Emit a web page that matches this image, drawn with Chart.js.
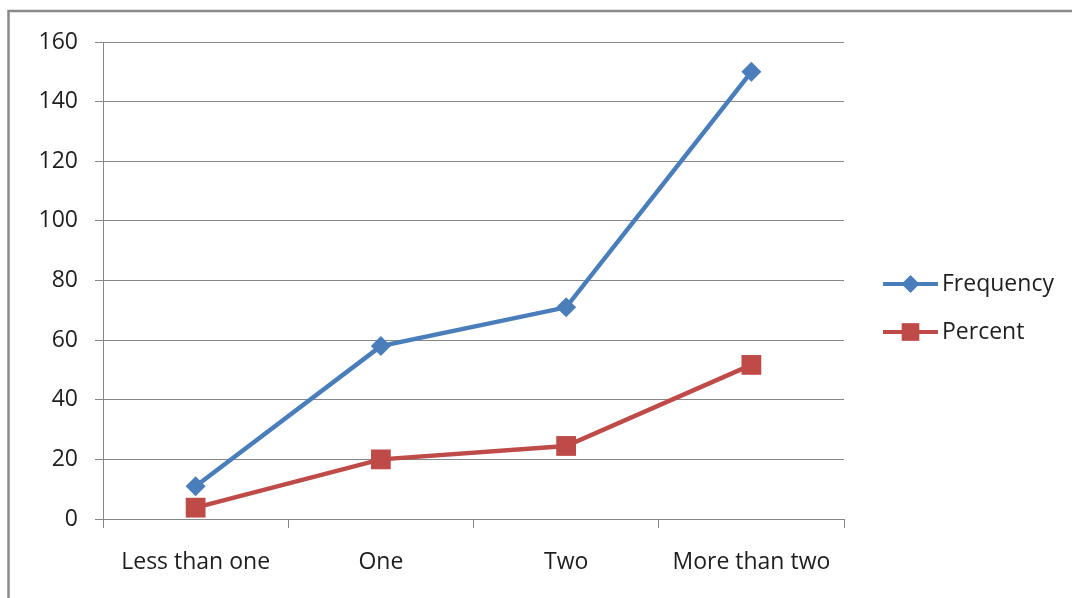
<!DOCTYPE html>
<html lang="en">
<head>
    <meta charset="UTF-8">
    <title>Frequency and Percent</title>
    <script src="https://cdn.jsdelivr.net/npm/chart.js"></script>
    <style>
        body { margin: 0; background: #fff; }
        canvas { display: block; }
    </style>
</head>
<body>
    <canvas id="mainChart" width="1072" height="598"></canvas>

    <script>
        const categories = ['Less than one', 'One', 'Two', 'More than two'];
        const frequency = [11, 58, 71, 150];
        const percent = [3.8, 20.0, 24.5, 51.7];
        const yTicks = [0, 20, 40, 60, 80, 100, 120, 140, 160];

        const FONT = '"Open Sans", sans-serif';
        const FONT_SIZE = 23;
        const TEXT = '#1e1e1e';
        const GRID = '#878787';

        // outer gray frame of the chart object
        const framePlugin = {
            id: 'frame',
            beforeDraw(chart) {
                const ctx = chart.ctx;
                ctx.save();
                ctx.strokeStyle = '#8a8a8a';
                ctx.lineWidth = 2.5;
                ctx.strokeRect(8.5, 11, 1200, 800);
                ctx.restore();
            }
        };

        // legend on the right: a short line with the marker in the middle
        const sideLegend = {
            id: 'sideLegend',
            afterDraw(chart) {
                const ctx = chart.ctx;
                const rows = [284, 332];
                chart.data.datasets.forEach((ds, i) => {
                    const y = rows[i];
                    ctx.save();
                    ctx.strokeStyle = ds.borderColor;
                    ctx.lineWidth = 4;
                    ctx.beginPath();
                    ctx.moveTo(883, y);
                    ctx.lineTo(938, y);
                    ctx.stroke();
                    ctx.fillStyle = ds.pointBackgroundColor;
                    ctx.strokeStyle = ds.pointBorderColor;
                    Chart.helpers.drawPoint(ctx, {
                        pointStyle: ds.pointStyle,
                        radius: ds.legendRadius,
                        rotation: 0,
                        borderWidth: 0
                    }, 910.5, y);
                    ctx.fillStyle = TEXT;
                    ctx.font = FONT_SIZE + 'px ' + FONT;
                    ctx.textAlign = 'left';
                    ctx.textBaseline = 'middle';
                    ctx.fillText(ds.label, 942, y);
                    ctx.restore();
                });
            }
        };

        const ctx = document.getElementById('mainChart').getContext('2d');
        new Chart(ctx, {
            type: 'line',
            data: {
                labels: categories,
                datasets: [{
                    label: 'Frequency',
                    data: frequency,
                    borderColor: '#4A7EBB',
                    borderWidth: 4.5,
                    pointStyle: 'rectRot',
                    pointRadius: 10,
                    legendRadius: 9,
                    pointBackgroundColor: '#4A7EBB',
                    pointBorderColor: '#4A7EBB',
                    pointBorderWidth: 0,
                    tension: 0
                }, {
                    label: 'Percent',
                    data: percent,
                    borderColor: '#BE4B48',
                    borderWidth: 4.5,
                    pointStyle: 'rect',
                    pointRadius: 14,
                    legendRadius: 12.5,
                    pointBackgroundColor: '#BE4B48',
                    pointBorderColor: '#BE4B48',
                    pointBorderWidth: 0,
                    tension: 0
                }]
            },
            options: {
                responsive: false,
                animation: false,
                layout: {
                    padding: { top: 42, right: 228, bottom: 0, left: 0 }
                },
                plugins: {
                    legend: { display: false },
                    tooltip: { enabled: false }
                },
                scales: {
                    x: {
                        offset: true,
                        afterFit(scale) { scale.height = 79; },
                        grid: {
                            offset: true,
                            drawOnChartArea: false,
                            tickLength: 9,
                            color: GRID
                        },
                        border: { color: GRID },
                        ticks: {
                            color: TEXT,
                            padding: 21,
                            maxRotation: 0,
                            font: { family: FONT, size: FONT_SIZE }
                        }
                    },
                    y: {
                        min: 0,
                        max: 160,
                        afterFit(scale) { scale.width = 103; },
                        afterBuildTicks(scale) {
                            scale.ticks = yTicks.map(v => ({ value: v }));
                        },
                        grid: {
                            tickLength: 8,
                            color: GRID
                        },
                        border: { color: GRID },
                        ticks: {
                            color: TEXT,
                            padding: 17,
                            font: { family: FONT, size: FONT_SIZE }
                        }
                    }
                }
            },
            plugins: [framePlugin, sideLegend]
        });
    </script>
</body>
</html>
